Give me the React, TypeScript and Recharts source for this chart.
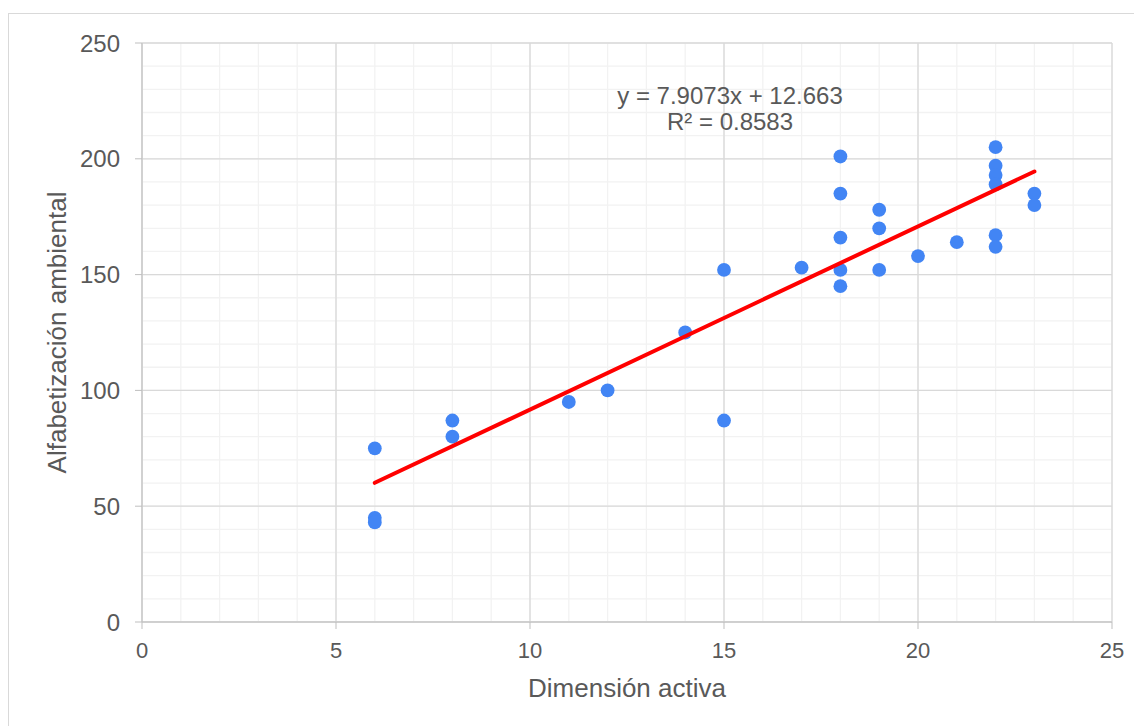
import React from "react";
import {
  ScatterChart,
  Scatter,
  XAxis,
  YAxis,
  CartesianGrid,
  ReferenceLine,
  ReferenceDot,
  Label
} from "recharts";

// Dimensión activa (x) and Alfabetización ambiental (y)
const activa = [
  6, 6, 6, 8, 8, 11, 12, 14, 15, 15, 17, 18, 18, 18, 18, 18, 19, 19, 19, 20,
  21, 22, 22, 22, 22, 22, 22, 23, 23
];
const ambiental = [
  75, 45, 43, 87, 80, 95, 100, 125, 152, 87, 153, 201, 185, 166, 152, 145,
  178, 170, 152, 158, 164, 205, 197, 193, 189, 167, 162, 185, 180
];

// linear trend as printed on the chart
const slope = 7.9073;
const intercept = 12.663;
const trendFrom = 6;
const trendTo = 23;
const equation = "y = 7.9073x + 12.663";
const rSquared = "R² = 0.8583";

const xTicks = [0, 5, 10, 15, 20, 25];
const yTicks = [0, 50, 100, 150, 200, 250];
const xMinor = Array.from({ length: 26 }, (_, i) => i);
const yMinor = Array.from({ length: 26 }, (_, i) => i * 10);

const points = activa.map((x, i) => ({ x, y: ambiental[i] }));

const font = "'Liberation Sans', Arial, sans-serif";
const textColor = "#595959";
const axisColor = "#bfbfbf";

const Dot = (p: any) => <circle cx={p.cx} cy={p.cy} r={6.9} fill="#4285F4" />;

export default function App() {
  return (
    <div
      style={{
        marginTop: 5,
        width: 1128,
        height: 712,
        border: "1px solid #d9d9d9",
        fontFamily: font
      }}
    >
      <ScatterChart
        width={1128}
        height={712}
        margin={{ top: 29, right: 25, left: 0, bottom: 0 }}
      >
        <CartesianGrid
          stroke="#f2f2f2"
          strokeWidth={1.3}
          verticalValues={xMinor}
          horizontalValues={yMinor}
        />
        <CartesianGrid
          stroke="#d9d9d9"
          strokeWidth={1.3}
          verticalValues={xTicks}
          horizontalValues={yTicks}
        />
        <XAxis
          type="number"
          dataKey="x"
          domain={[0, 25]}
          ticks={xTicks}
          height={104}
          tickSize={7}
          tickMargin={13}
          stroke={axisColor}
          tick={{ fill: textColor, fontSize: 22, fontFamily: font }}
        >
          <Label
            content={(props: any) => {
              const vb = props.viewBox;
              return (
                <text
                  x={vb.x + vb.width / 2}
                  y={vb.y + 75}
                  textAnchor="middle"
                  fill={textColor}
                  fontSize={26}
                  fontFamily={font}
                >
                  Dimensión activa
                </text>
              );
            }}
          />
        </XAxis>
        <YAxis
          type="number"
          dataKey="y"
          domain={[0, 250]}
          ticks={yTicks}
          width={133}
          tickSize={7}
          tickMargin={15}
          stroke={axisColor}
          tick={{ fill: textColor, fontSize: 24, fontFamily: font }}
        >
          <Label
            content={(props: any) => {
              const vb = props.viewBox;
              const cx = 57;
              const cy = vb.y + vb.height / 2;
              return (
                <text
                  x={cx}
                  y={cy}
                  transform={`rotate(-90 ${cx} ${cy})`}
                  textAnchor="middle"
                  fill={textColor}
                  fontSize={26}
                  fontFamily={font}
                >
                  Alfabetización ambiental
                </text>
              );
            }}
          />
        </YAxis>
        <Scatter
          data={points}
          shape={Dot}
          isAnimationActive={false}
        />
        <ReferenceLine
          segment={[
            { x: trendFrom, y: slope * trendFrom + intercept },
            { x: trendTo, y: slope * trendTo + intercept }
          ]}
          stroke="#ff0000"
          strokeWidth={4}
          strokeLinecap="round"
          zIndex={900}
        />
        <ReferenceDot
          x={15.155}
          y={223.7}
          r={0}
          fill="none"
          stroke="none"
          label={(props: any) => {
            const vb = props.viewBox;
            const cx = vb.x + (vb.width || 0) / 2;
            const cy = vb.y + (vb.height || 0) / 2;
            return (
              <text
                textAnchor="middle"
                fill={textColor}
                fontSize={24}
                fontFamily={font}
              >
                <tspan x={cx} y={cy}>
                  {equation}
                </tspan>
                <tspan x={cx} y={cy + 26}>
                  {rSquared}
                </tspan>
              </text>
            );
          }}
        />
      </ScatterChart>
    </div>
  );
}
